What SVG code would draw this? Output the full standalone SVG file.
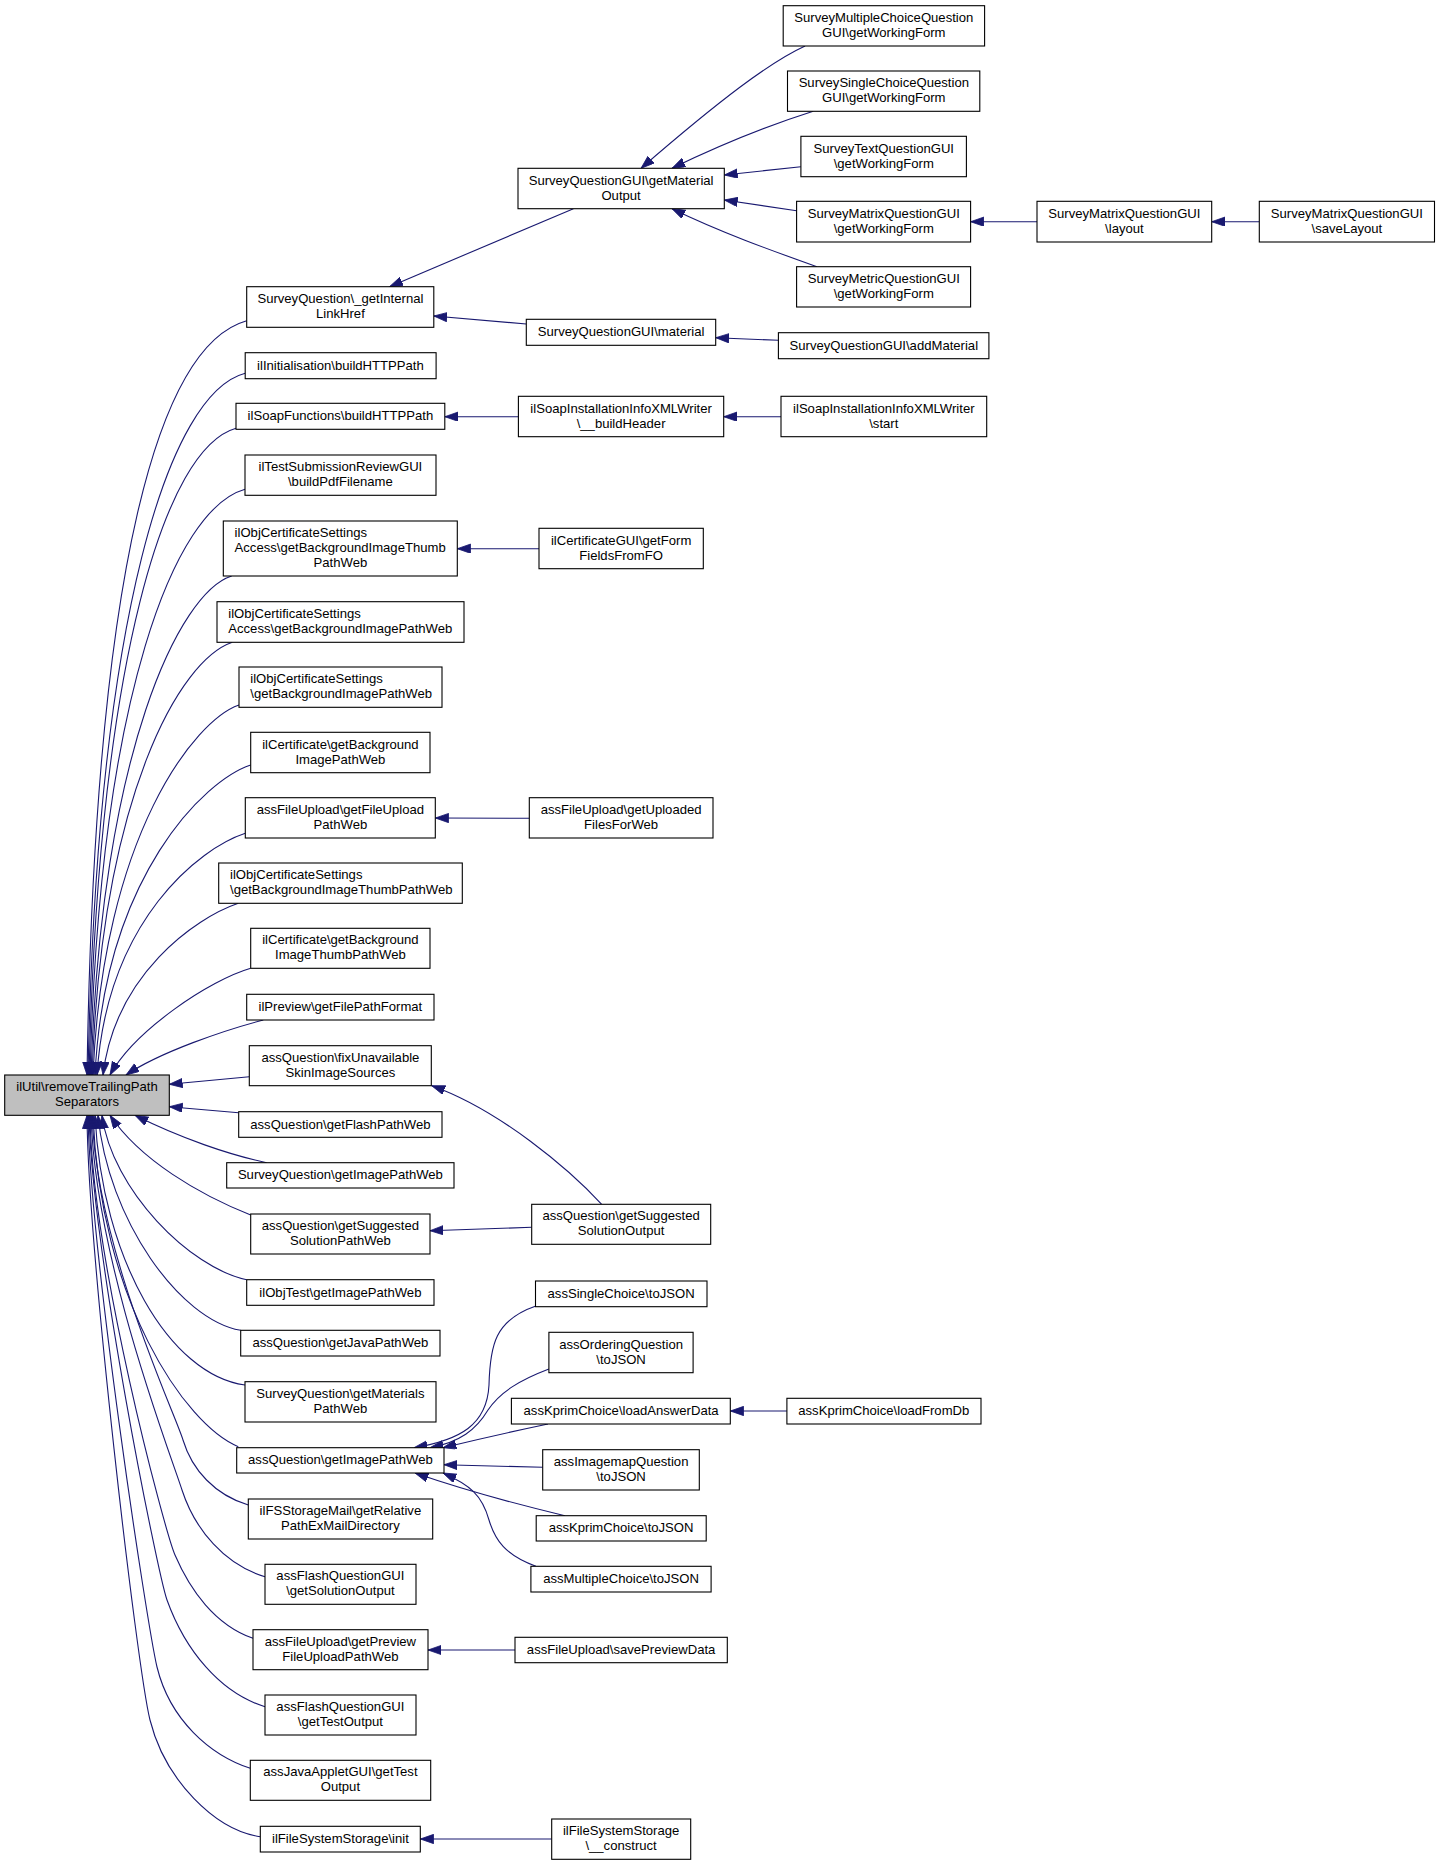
<svg xmlns="http://www.w3.org/2000/svg" width="1440" height="1865" viewBox="0 0 1440 1865">
<style>
.n rect{fill:#fff;stroke:#000;stroke-width:1.1}
.root rect{fill:#bfbfbf}
text{font-family:"Liberation Sans",Arial,Helvetica,sans-serif;font-size:13.1px;fill:#000;text-anchor:middle}
text.l{text-anchor:start}
#edges path{fill:none;stroke:#191970;stroke-width:1.1;marker-end:url(#ah)}
</style>
<defs>
<marker id="ah" markerWidth="14" markerHeight="10" refX="13.3" refY="4.65" orient="auto" markerUnits="userSpaceOnUse">
<path d="M0,0 L13.3,4.65 L0,9.3 Z" fill="#191970" stroke="#191970" stroke-width="0.8"/>
</marker>
</defs>
<rect x="0" y="0" width="1440" height="1865" fill="#fff"/>
<g id="edges">
<path d="M246.7,320.7 C160,345 95,560 87,1075"/>
<path d="M245.2,373.3 C170,393 97,610 88,1075"/>
<path d="M236,428.3 C166,448 99,655 89,1075"/>
<path d="M245,489.3 C175,509 100,694 90,1075"/>
<path d="M231.7,576 C180,592 101,751 91,1075"/>
<path d="M232.3,642.3 C180,660 102,794 92,1075"/>
<path d="M239,705 C195,720 103,835 93,1075"/>
<path d="M250.7,765 C205,780 105,875 95,1075"/>
<path d="M245.3,833.3 C200,848 107,920 97,1075"/>
<path d="M238.3,903.3 C195,918 115,975 103,1075"/>
<path d="M250.7,968.3 C210,980 135,1030 110,1075"/>
<path d="M263.3,1020 C225,1030 160,1052 126,1075"/>
<path d="M249.3,1076.7 L169.3,1084.3"/>
<path d="M238.7,1112.7 L169.3,1106.7"/>
<path d="M266.7,1162.7 C230,1155 180,1138 135,1115.3"/>
<path d="M250.7,1215 C200,1195 140,1160 110,1115.3"/>
<path d="M246.7,1279.7 C190,1268 112,1190 102,1115.3"/>
<path d="M240.7,1330.3 C180,1320 108,1220 98,1115.3"/>
<path d="M245,1385 C170,1375 102,1260 95,1115.3"/>
<path d="M238.3,1446.7 C185,1425 100,1300 93,1115.3"/>
<path d="M248.3,1505 C215,1495 192,1470 183,1440 C175,1413 97,1250 92,1115.3"/>
<path d="M265,1576.7 C225,1565 195,1530 182,1490 C172,1458 95,1260 91,1115.3"/>
<path d="M253,1638.3 C215,1625 190,1590 175,1555 C165,1532 92,1260 90,1115.3"/>
<path d="M265,1706.7 C220,1693 185,1650 167,1600 C158,1575 92,1250 89,1115.3"/>
<path d="M250.3,1768.3 C210,1755 170,1720 157,1667 C147,1625 90,1250 88,1115.3"/>
<path d="M260.3,1836.7 C215,1830 165,1780 150,1720 C137,1668 88,1250 87,1115.3"/>
<path d="M573.4,208.7 L389.5,286.7"/>
<path d="M526.3,324 L433.8,316"/>
<path d="M518.4,416.7 L444.8,416.7"/>
<path d="M539,548.7 L457.3,548.7"/>
<path d="M529.3,818.3 L435.3,818"/>
<path d="M531.7,1227.3 L430,1230.7"/>
<path d="M601.7,1204.3 C570,1170 500,1110 431.7,1085.7"/>
<path d="M535.9,1306 C495,1320 490,1345 489,1385 C487,1425 460,1440 414,1447.7"/>
<path d="M548.9,1369 C520,1380 500,1392 488,1410 C476,1430 460,1442 430,1447.7"/>
<path d="M548,1424 C510,1432 475,1440 443,1447.7"/>
<path d="M542.7,1467.3 L444,1464.7"/>
<path d="M564.9,1515.7 C520,1505 470,1492 415,1473"/>
<path d="M535.9,1566.3 C505,1555 495,1540 489,1520 C482,1495 470,1485 443,1473"/>
<path d="M515,1650 L428,1650"/>
<path d="M551.7,1839 L420.3,1839"/>
<path d="M805.1,46 C770,62 720,100 641,168.3"/>
<path d="M813.2,111.3 C770,125 720,145 672,168.3"/>
<path d="M800.9,166.7 L724.3,175"/>
<path d="M796.6,210.7 L724.3,200"/>
<path d="M816.9,266.7 C770,250 720,232 672,208.7"/>
<path d="M778.4,340.3 L715.7,337.7"/>
<path d="M781,416.7 L723.7,416.7"/>
<path d="M786.9,1411 L730.3,1411"/>
<path d="M1037,221.7 L970.6,221.7"/>
<path d="M1259.3,221.7 L1211.7,221.7"/>
</g>
<g id="n0" class="n root"><rect x="4.7" y="1075" width="164.6" height="40.3"/><text x="87" y="1091">ilUtil\removeTrailingPath</text><text x="87" y="1106">Separators</text></g>
<g id="L1" class="n"><rect x="246.7" y="286.7" width="187.1" height="40.6"/><text x="340.4" y="303">SurveyQuestion\_getInternal</text><text x="340.4" y="318">LinkHref</text></g>
<g id="L2" class="n"><rect x="245.2" y="352.7" width="190.9" height="26"/><text x="340.4" y="369.7">ilInitialisation\buildHTTPPath</text></g>
<g id="L3" class="n"><rect x="236" y="403.3" width="208.8" height="26"/><text x="340.4" y="420.3">ilSoapFunctions\buildHTTPPath</text></g>
<g id="L4" class="n"><rect x="245" y="455" width="191" height="40.3"/><text x="340.4" y="471">ilTestSubmissionReviewGUI</text><text x="340.4" y="486">\buildPdfFilename</text></g>
<g id="L5" class="n"><rect x="223.3" y="521" width="234" height="55"/><text class="l" x="234.6" y="536.5">ilObjCertificateSettings</text><text class="l" x="234.6" y="551.5">Access\getBackgroundImageThumb</text><text x="340.4" y="566.5">PathWeb</text></g>
<g id="L6" class="n"><rect x="217" y="601.7" width="247" height="40.6"/><text class="l" x="228.3" y="618">ilObjCertificateSettings</text><text class="l" x="228.3" y="633">Access\getBackgroundImagePathWeb</text></g>
<g id="L7" class="n"><rect x="239" y="667" width="203" height="40.3"/><text class="l" x="250.3" y="683">ilObjCertificateSettings</text><text class="l" x="250.3" y="698">\getBackgroundImagePathWeb</text></g>
<g id="L8" class="n"><rect x="250.7" y="732.3" width="179.3" height="40.4"/><text x="340.4" y="748.5">ilCertificate\getBackground</text><text x="340.4" y="763.5">ImagePathWeb</text></g>
<g id="L9" class="n"><rect x="245.3" y="797.7" width="190" height="40.3"/><text x="340.4" y="814">assFileUpload\getFileUpload</text><text x="340.4" y="829">PathWeb</text></g>
<g id="L10" class="n"><rect x="218.7" y="863" width="243.6" height="40.3"/><text class="l" x="230" y="879">ilObjCertificateSettings</text><text class="l" x="230" y="894">\getBackgroundImageThumbPathWeb</text></g>
<g id="L11" class="n"><rect x="250.7" y="928.3" width="179.3" height="40"/><text x="340.4" y="944.3">ilCertificate\getBackground</text><text x="340.4" y="959.3">ImageThumbPathWeb</text></g>
<g id="L12" class="n"><rect x="246.7" y="994.3" width="187.3" height="25.7"/><text x="340.4" y="1011">ilPreview\getFilePathFormat</text></g>
<g id="L13" class="n"><rect x="249.3" y="1045.7" width="182" height="40"/><text x="340.4" y="1061.7">assQuestion\fixUnavailable</text><text x="340.4" y="1076.7">SkinImageSources</text></g>
<g id="L14" class="n"><rect x="238.7" y="1111.7" width="203.3" height="25.6"/><text x="340.4" y="1128.5">assQuestion\getFlashPathWeb</text></g>
<g id="L15" class="n"><rect x="226.7" y="1162.7" width="227.3" height="25.3"/><text x="340.4" y="1179.3">SurveyQuestion\getImagePathWeb</text></g>
<g id="L16" class="n"><rect x="250.7" y="1214" width="179.3" height="40"/><text x="340.4" y="1230">assQuestion\getSuggested</text><text x="340.4" y="1245">SolutionPathWeb</text></g>
<g id="L17" class="n"><rect x="246.7" y="1279.7" width="187.3" height="25.6"/><text x="340.4" y="1296.5">ilObjTest\getImagePathWeb</text></g>
<g id="L18" class="n"><rect x="240.7" y="1330.3" width="199.3" height="25.7"/><text x="340.4" y="1347.2">assQuestion\getJavaPathWeb</text></g>
<g id="L19" class="n"><rect x="245" y="1381.7" width="191" height="40.3"/><text x="340.4" y="1397.9">SurveyQuestion\getMaterials</text><text x="340.4" y="1412.9">PathWeb</text></g>
<g id="L20" class="n"><rect x="236.7" y="1447.7" width="207.3" height="25.3"/><text x="340.4" y="1464.4">assQuestion\getImagePathWeb</text></g>
<g id="L21" class="n"><rect x="248.3" y="1499" width="184.4" height="40"/><text x="340.4" y="1515">ilFSStorageMail\getRelative</text><text x="340.4" y="1530">PathExMailDirectory</text></g>
<g id="L22" class="n"><rect x="265" y="1564.3" width="151" height="40"/><text x="340.4" y="1580.3">assFlashQuestionGUI</text><text x="340.4" y="1595.3">\getSolutionOutput</text></g>
<g id="L23" class="n"><rect x="253" y="1629.7" width="175" height="40"/><text x="340.4" y="1645.7">assFileUpload\getPreview</text><text x="340.4" y="1660.7">FileUploadPathWeb</text></g>
<g id="L24" class="n"><rect x="265" y="1695" width="151" height="40"/><text x="340.4" y="1711">assFlashQuestionGUI</text><text x="340.4" y="1726">\getTestOutput</text></g>
<g id="L25" class="n"><rect x="250.3" y="1760.3" width="180.4" height="40"/><text x="340.4" y="1776.3">assJavaAppletGUI\getTest</text><text x="340.4" y="1791.3">Output</text></g>
<g id="L26" class="n"><rect x="260.3" y="1826.3" width="160" height="25.7"/><text x="340.4" y="1843.2">ilFileSystemStorage\init</text></g>
<g id="M1" class="n"><rect x="518" y="168.3" width="206.3" height="40.4"/><text x="621.1" y="184.5">SurveyQuestionGUI\getMaterial</text><text x="621.1" y="199.5">Output</text></g>
<g id="M2" class="n"><rect x="526.3" y="319.3" width="189.4" height="26"/><text x="621.1" y="336.3">SurveyQuestionGUI\material</text></g>
<g id="M3" class="n"><rect x="518.4" y="396.3" width="205.3" height="40.4"/><text x="621.1" y="412.5">ilSoapInstallationInfoXMLWriter</text><text x="621.1" y="427.5">\__buildHeader</text></g>
<g id="M4" class="n"><rect x="539" y="528.3" width="164.3" height="40.4"/><text x="621.1" y="544.5">ilCertificateGUI\getForm</text><text x="621.1" y="559.5">FieldsFromFO</text></g>
<g id="M5" class="n"><rect x="529.3" y="797.7" width="183.7" height="40.3"/><text x="621.1" y="813.9">assFileUpload\getUploaded</text><text x="621.1" y="828.9">FilesForWeb</text></g>
<g id="M6" class="n"><rect x="531.7" y="1204.3" width="179" height="40"/><text x="621.1" y="1220.3">assQuestion\getSuggested</text><text x="621.1" y="1235.3">SolutionOutput</text></g>
<g id="M7" class="n"><rect x="535.5" y="1281" width="171.5" height="25.7"/><text x="621.1" y="1297.9">assSingleChoice\toJSON</text></g>
<g id="M8" class="n"><rect x="548.9" y="1332.3" width="144.2" height="40.4"/><text x="621.1" y="1348.5">assOrderingQuestion</text><text x="621.1" y="1363.5">\toJSON</text></g>
<g id="M9" class="n"><rect x="511.4" y="1398.3" width="218.9" height="25.7"/><text x="621.1" y="1415.2">assKprimChoice\loadAnswerData</text></g>
<g id="M10" class="n"><rect x="542.7" y="1449.7" width="156.6" height="40.3"/><text x="621.1" y="1465.9">assImagemapQuestion</text><text x="621.1" y="1480.9">\toJSON</text></g>
<g id="M11" class="n"><rect x="536.2" y="1515.7" width="170" height="25.3"/><text x="621.1" y="1532.4">assKprimChoice\toJSON</text></g>
<g id="M12" class="n"><rect x="530.9" y="1566.3" width="180.2" height="25.7"/><text x="621.1" y="1583.2">assMultipleChoice\toJSON</text></g>
<g id="M13" class="n"><rect x="515" y="1637.3" width="212.3" height="25.4"/><text x="621.1" y="1654">assFileUpload\savePreviewData</text></g>
<g id="M14" class="n"><rect x="551.7" y="1819" width="139" height="40.3"/><text x="621.1" y="1835.2">ilFileSystemStorage</text><text x="621.1" y="1850.2">\__construct</text></g>
<g id="R1" class="n"><rect x="783.2" y="5.7" width="201.4" height="40.3"/><text x="883.8" y="21.9">SurveyMultipleChoiceQuestion</text><text x="883.8" y="36.9">GUI\getWorkingForm</text></g>
<g id="R2" class="n"><rect x="787.5" y="71" width="192.3" height="40.3"/><text x="883.8" y="87.2">SurveySingleChoiceQuestion</text><text x="883.8" y="102.2">GUI\getWorkingForm</text></g>
<g id="R3" class="n"><rect x="800.9" y="136.3" width="165.5" height="40.4"/><text x="883.8" y="152.5">SurveyTextQuestionGUI</text><text x="883.8" y="167.5">\getWorkingForm</text></g>
<g id="R4" class="n"><rect x="796.6" y="201.3" width="174" height="40.7"/><text x="883.8" y="217.7">SurveyMatrixQuestionGUI</text><text x="883.8" y="232.7">\getWorkingForm</text></g>
<g id="R5" class="n"><rect x="796.6" y="266.7" width="174" height="40.3"/><text x="883.8" y="282.9">SurveyMetricQuestionGUI</text><text x="883.8" y="297.9">\getWorkingForm</text></g>
<g id="R6" class="n"><rect x="778.4" y="332.7" width="210.5" height="26"/><text x="883.8" y="349.7">SurveyQuestionGUI\addMaterial</text></g>
<g id="R7" class="n"><rect x="781" y="396.3" width="205.7" height="40.4"/><text x="883.8" y="412.5">ilSoapInstallationInfoXMLWriter</text><text x="883.8" y="427.5">\start</text></g>
<g id="R8" class="n"><rect x="786.9" y="1398.3" width="194.1" height="25.7"/><text x="883.8" y="1415.2">assKprimChoice\loadFromDb</text></g>
<g id="S1" class="n"><rect x="1037" y="201.3" width="174.7" height="40.7"/><text x="1124.4" y="217.7">SurveyMatrixQuestionGUI</text><text x="1124.4" y="232.7">\layout</text></g>
<g id="S2" class="n"><rect x="1259.3" y="201.3" width="175.2" height="40.7"/><text x="1346.9" y="217.7">SurveyMatrixQuestionGUI</text><text x="1346.9" y="232.7">\saveLayout</text></g>
</svg>
